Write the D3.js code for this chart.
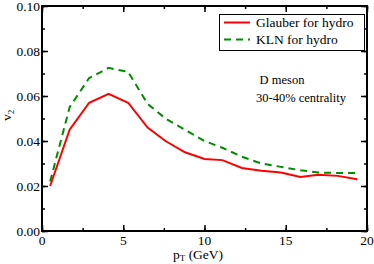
<!DOCTYPE html>
<html lang="en">
<head>
<meta charset="UTF-8">
<title>D meson v2</title>
<style>
  body { margin: 0; background: #fff; }
</style>
</head>
<body>
<svg width="374" height="264"></svg>
<script src="https://d3js.org/d3.v7.min.js"></script>
<script>
// pT values (GeV)
var pt = [0.5, 1.7, 2.9, 4.1, 5.3, 6.5, 7.6, 8.8, 10.0, 11.1, 12.3, 13.5, 14.7, 15.9, 17.0, 18.2, 19.4];
var glauber = [0.020, 0.045, 0.057, 0.061, 0.057, 0.046, 0.040, 0.035, 0.032, 0.0315, 0.028, 0.0268, 0.026, 0.024, 0.025, 0.0245, 0.023];
var kln = [0.022, 0.055, 0.068, 0.0725, 0.0707, 0.0565, 0.050, 0.045, 0.040, 0.037, 0.033, 0.030, 0.0285, 0.027, 0.026, 0.0258, 0.0258];
var xTicks = [0, 5, 10, 15, 20];
var yTicks = [0, 0.02, 0.04, 0.06, 0.08, 0.10];

var svg = d3.select("svg"),
    margin = {top: 6, right: 7, bottom: 33, left: 42},
    width = 374 - margin.left - margin.right,
    height = 264 - margin.top - margin.bottom,
    g = svg.append("g").attr("transform", "translate(" + margin.left + "," + margin.top + ")");

var x = d3.scaleLinear().domain([0, 20]).range([0, width]);
var y = d3.scaleLinear().domain([0, 0.10]).range([height, 0]);

// minor + major ticks, drawn inward on all four sides
var xMinor = d3.range(0, 20.01, 2.5), yMinor = d3.range(0, 0.1001, 0.01);

function ticks(axis, vals, len) {
  axis.tickValues(vals).tickSize(len).tickFormat("");
  return axis;
}
g.append("g").attr("transform", "translate(0," + height + ")").call(ticks(d3.axisTop(x), xMinor, 3));
g.append("g").attr("transform", "translate(0," + height + ")").call(ticks(d3.axisTop(x), xTicks, 6));
g.append("g").call(ticks(d3.axisBottom(x), xMinor, 3));
g.append("g").call(ticks(d3.axisBottom(x), xTicks, 6));
g.append("g").call(ticks(d3.axisRight(y), yMinor, 3));
g.append("g").call(ticks(d3.axisRight(y), yTicks, 6));
g.append("g").attr("transform", "translate(" + width + ",0)").call(ticks(d3.axisLeft(y), yMinor, 3));
g.append("g").attr("transform", "translate(" + width + ",0)").call(ticks(d3.axisLeft(y), yTicks, 6));
g.selectAll(".domain").remove();
g.selectAll(".tick line").attr("stroke", "#000").attr("stroke-width", 1.5);

g.append("rect")
    .attr("width", width).attr("height", height)
    .attr("fill", "none").attr("stroke", "#000").attr("stroke-width", 2);

// tick labels
g.selectAll(".xl").data(xTicks).enter().append("text")
    .attr("x", function(d) { return x(d); })
    .attr("y", height + 14)
    .attr("text-anchor", "middle")
    .attr("font-size", 13.5)
    .text(function(d) { return d; });

g.selectAll(".yl").data(yTicks).enter().append("text")
    .attr("x", -2)
    .attr("y", function(d) { return y(d) + 4.5; })
    .attr("text-anchor", "end")
    .attr("font-size", 13.5)
    .text(function(d) { return d3.format(".2f")(d); });

// axis titles
var xt = svg.append("text")
    .attr("x", 173).attr("y", 259)
    .attr("font-size", 13.5);
xt.append("tspan").text("p");
xt.append("tspan").attr("font-size", 9).attr("dy", 2).text("T");
xt.append("tspan").attr("dy", -2).text(" (GeV)");

var yt = svg.append("text")
    .attr("transform", "translate(11,121) rotate(-90)")
    .attr("font-size", 13.5);
yt.append("tspan").text("v");
yt.append("tspan").attr("font-size", 9).attr("dy", 3).text("2");

// curves
var line = d3.line()
    .x(function(d) { return x(d[0]); })
    .y(function(d) { return y(d[1]); });

g.append("path")
    .datum(d3.zip(pt, kln))
    .attr("d", line)
    .attr("fill", "none")
    .attr("stroke", "#008c00")
    .attr("stroke-width", 2)
    .attr("stroke-dasharray", "7,5");

g.append("path")
    .datum(d3.zip(pt, glauber))
    .attr("d", line)
    .attr("fill", "none")
    .attr("stroke", "#ff0000")
    .attr("stroke-width", 2);

// legend
var leg = svg.append("g");
leg.append("rect")
    .attr("x", 219.5).attr("y", 14.5).attr("width", 145).attr("height", 36)
    .attr("fill", "#fff").attr("stroke", "#000").attr("stroke-width", 1);
leg.append("line").attr("x1", 224).attr("x2", 250).attr("y1", 22.5).attr("y2", 22.5)
    .attr("stroke", "#ff0000").attr("stroke-width", 2);
leg.append("line").attr("x1", 224).attr("x2", 250).attr("y1", 39.5).attr("y2", 39.5)
    .attr("stroke", "#008c00").attr("stroke-width", 2).attr("stroke-dasharray", "7,5");
leg.append("text").attr("x", 256).attr("y", 27).attr("font-size", 13.5).text("Glauber for hydro");
leg.append("text").attr("x", 256).attr("y", 44).attr("font-size", 13.5).text("KLN for hydro");

// annotation
svg.append("text").attr("x", 282).attr("y", 84).attr("text-anchor", "middle")
    .attr("font-size", 12.5).text("D meson");
svg.append("text").attr("x", 301).attr("y", 102).attr("text-anchor", "middle")
    .attr("font-size", 12.5).text("30-40% centrality");

// serif everywhere
svg.selectAll("text").attr("font-family", "Times New Roman, serif").attr("fill", "#000");
</script>
</body>
</html>
